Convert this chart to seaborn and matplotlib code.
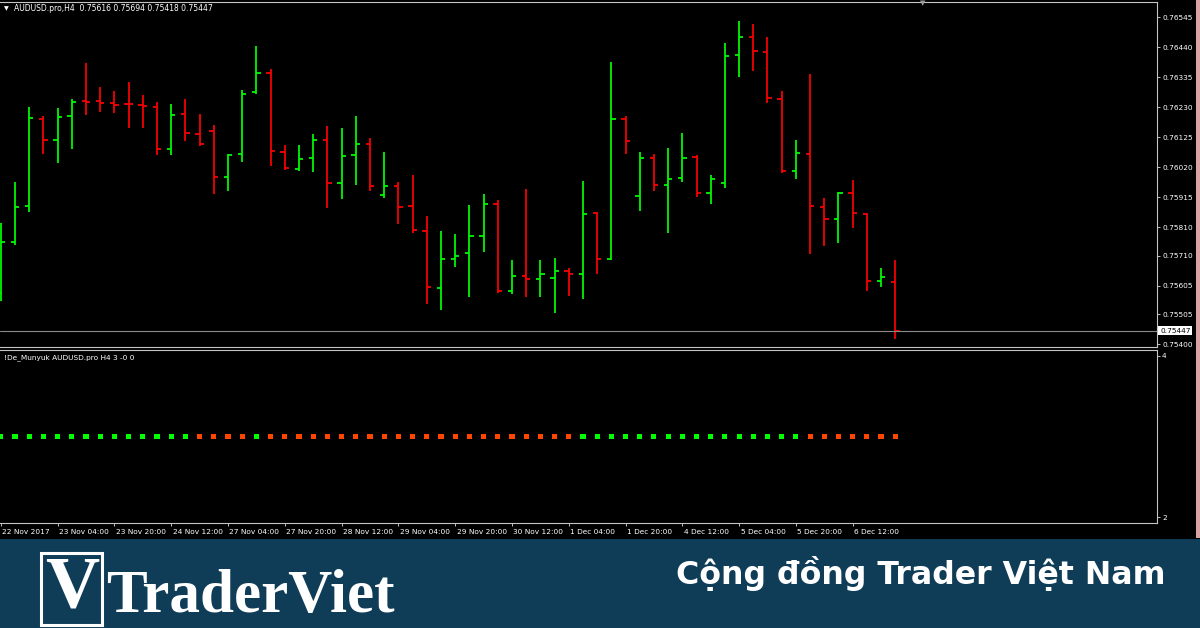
import numpy as np
import pandas as pd
import matplotlib
matplotlib.use("Agg")
import matplotlib.pyplot as plt
import matplotlib.transforms as mtransforms
from matplotlib.patches import Rectangle
import seaborn as sns

# ---------------- data ----------------
symbol_title = "AUDUSD.pro,H4"
title_values = ["0.75616", "0.75694", "0.75418", "0.75447"]
indicator_title = "!De_Munyuk AUDUSD.pro H4 3 -0 0"

opens = [0.75580, 0.75759, 0.75885, 0.76188, 0.76116, 0.76200, 0.76253, 0.76250,
         0.76246, 0.76242, 0.76237, 0.76231, 0.76084, 0.76205, 0.76137, 0.76148,
         0.75986, 0.76067, 0.76284, 0.76349, 0.76074, 0.76012, 0.76053, 0.76116,
         0.75963, 0.76063, 0.76102, 0.75923, 0.75955, 0.75883, 0.75796, 0.75598,
         0.75699, 0.75718, 0.75780, 0.75892, 0.75587, 0.75639, 0.75629, 0.75632,
         0.75657, 0.75646, 0.75858, 0.75699, 0.76188, 0.75920, 0.76051, 0.75958,
         0.75982, 0.76055, 0.75930, 0.75965, 0.76414, 0.76477, 0.76424, 0.76260,
         0.76007, 0.76067, 0.75881, 0.75839, 0.75930, 0.75856, 0.75622, 0.75616]
highs = [0.75823, 0.75967, 0.76232, 0.76200, 0.76226, 0.76258, 0.76384, 0.76300,
         0.76288, 0.76319, 0.76272, 0.76247, 0.76241, 0.76260, 0.76205, 0.76167,
         0.76065, 0.76291, 0.76444, 0.76363, 0.76098, 0.76098, 0.76135, 0.76163,
         0.76157, 0.76198, 0.76121, 0.76074, 0.75967, 0.75992, 0.75848, 0.75795,
         0.75784, 0.75887, 0.75926, 0.75904, 0.75695, 0.75943, 0.75695, 0.75701,
         0.75667, 0.75971, 0.75863, 0.76388, 0.76199, 0.76072, 0.76067, 0.76087,
         0.76138, 0.76061, 0.75992, 0.76454, 0.76533, 0.76522, 0.76475, 0.76286,
         0.76115, 0.76345, 0.75912, 0.75934, 0.75975, 0.75860, 0.75667, 0.75694]
lows = [0.75551, 0.75746, 0.75862, 0.76067, 0.76035, 0.76084, 0.76203, 0.76214,
        0.76210, 0.76156, 0.76156, 0.76063, 0.76063, 0.76110, 0.76095, 0.75927,
        0.75936, 0.76039, 0.76277, 0.76025, 0.76011, 0.76007, 0.76004, 0.75878,
        0.75908, 0.75958, 0.75936, 0.75913, 0.75822, 0.75788, 0.75541, 0.75520,
        0.75671, 0.75564, 0.75721, 0.75580, 0.75576, 0.75566, 0.75566, 0.75510,
        0.75569, 0.75557, 0.75646, 0.75695, 0.76067, 0.75867, 0.75936, 0.75790,
        0.75969, 0.75916, 0.75892, 0.75948, 0.76337, 0.76358, 0.76244, 0.75998,
        0.75979, 0.75716, 0.75742, 0.75753, 0.75808, 0.75585, 0.75601, 0.75418]
closes = [0.75756, 0.75881, 0.76193, 0.76116, 0.76197, 0.76249, 0.76249, 0.76246,
          0.76237, 0.76240, 0.76233, 0.76084, 0.76203, 0.76141, 0.76102, 0.75986,
          0.76063, 0.76277, 0.76349, 0.76077, 0.76018, 0.76049, 0.76116, 0.75963,
          0.76060, 0.76102, 0.75955, 0.75955, 0.75881, 0.75798, 0.75601, 0.75697,
          0.75709, 0.75780, 0.75892, 0.75587, 0.75639, 0.75629, 0.75646, 0.75657,
          0.75646, 0.75856, 0.75699, 0.76188, 0.76112, 0.76051, 0.75958, 0.75979,
          0.76053, 0.75930, 0.75979, 0.76410, 0.76477, 0.76428, 0.76262, 0.76007,
          0.76070, 0.75883, 0.75839, 0.75930, 0.75858, 0.75622, 0.75636, 0.75447]

indicator_signal = ["up", "up", "up", "up", "up", "up", "up", "up",
                    "up", "up", "up", "up", "up", "up", "down", "down",
                    "down", "down", "up", "down", "down", "down", "down", "down",
                    "down", "down", "down", "down", "down", "down", "down", "down",
                    "down", "down", "down", "down", "down", "down", "down", "down",
                    "down", "up", "up", "up", "up", "up", "up", "up",
                    "up", "up", "up", "up", "up", "up", "up", "up",
                    "up", "down", "down", "down", "down", "down", "down", "down"]
indicator_values = [3, 3, 3, 3, 3, 3, 3, 3, 3, 3, 3, 3, 3, 3, 3, 3,
                    3, 3, 3, 3, 3, 3, 3, 3, 3, 3, 3, 3, 3, 3, 3, 3,
                    3, 3, 3, 3, 3, 3, 3, 3, 3, 3, 3, 3, 3, 3, 3, 3,
                    3, 3, 3, 3, 3, 3, 3, 3, 3, 3, 3, 3, 3, 3, 3, 3]

date_labels = ["22 Nov 2017", "23 Nov 04:00", "23 Nov 20:00", "24 Nov 12:00",
               "27 Nov 04:00", "27 Nov 20:00", "28 Nov 12:00", "29 Nov 04:00",
               "29 Nov 20:00", "30 Nov 12:00", "1 Dec 04:00", "1 Dec 20:00",
               "4 Dec 12:00", "5 Dec 04:00", "5 Dec 20:00", "6 Dec 12:00"]
date_label_bars = [0, 4, 8, 12, 16, 20, 24, 28, 32, 36, 40, 44, 48, 52, 56, 60]

price_ticks = [0.76545, 0.76440, 0.76335, 0.76230, 0.76125, 0.76020,
               0.75915, 0.75810, 0.75710, 0.75605, 0.75505, 0.75400]
price_tick_labels = ["0.76545", "0.76440", "0.76335", "0.76230", "0.76125", "0.76020",
                     "0.75915", "0.75810", "0.75710", "0.75605", "0.75505", "0.75400"]
indicator_ticks = [2, 4]
indicator_tick_labels = ["2", "4"]
current_price = 0.75447
current_price_label = "0.75447"

banner_brand = "TraderViet"
banner_slogan = "Cộng đồng Trader Việt Nam"

# ---------------- style ----------------
UP = "#00ff00"
DOWN = "#ff0000"
DOT_UP = "#00ff00"
DOT_DOWN = "#ff4500"
FRAME = "#c4c4c4"
FS = 5.3

sns.set_theme(style="dark")
plt.rcParams["font.family"] = ["DejaVu Sans"]
plt.rcParams["axes.facecolor"] = "black"
plt.rcParams["figure.facecolor"] = "black"

W, H = 1200, 628
fig = plt.figure(figsize=(12, 6.28), dpi=100, facecolor="black")


def rect(x0, y0, x1, y1):
    return [x0 / W, 1 - y1 / H, (x1 - x0) / W, (y1 - y0) / H]


def fx(x):
    return x / W


def fy(y):
    return 1 - y / H


ax = fig.add_axes(rect(0, 1.5, 1157, 347))
axi = fig.add_axes(rect(0, 349.5, 1157, 522.5))

n = len(opens)
x = np.arange(n)
df = pd.DataFrame({"bar": x, "open": opens, "high": highs, "low": lows,
                   "close": closes, "value": indicator_values,
                   "signal": indicator_signal})
colors = [UP if c >= o else DOWN for o, c in zip(df["open"], df["close"])]

# OHLC bars
LW = 1.25
ax.vlines(df["bar"], df["low"], df["high"], colors=colors, lw=LW)
ax.hlines(df["open"], df["bar"] - 0.3, df["bar"], colors=colors, lw=LW)
ax.hlines(df["close"], df["bar"], df["bar"] + 0.3, colors=colors, lw=LW)

ax.axhline(current_price, color="#8a8a8a", lw=0.8)

# indicator dots
sns.scatterplot(data=df, x="bar", y="value", hue="signal",
                palette={"up": DOT_UP, "down": DOT_DOWN}, marker="s", s=14,
                linewidth=0, legend=False, ax=axi)

xlim = (-0.05, 81.43)
for a in (ax, axi):
    a.set_facecolor("black")
    a.set_xlim(*xlim)
    a.set_xlabel("")
    a.set_ylabel("")
    a.grid(False)
    a.spines["left"].set_visible(False)
    for s in ("top", "right", "bottom"):
        a.spines[s].set_visible(True)
        a.spines[s].set_color(FRAME)
        a.spines[s].set_linewidth(0.8)
    a.yaxis.tick_right()
    a.tick_params(axis="y", which="both", right=True, left=False, length=2.2,
                  width=0.7, color=FRAME, labelcolor="white", labelsize=FS, pad=1.5)

ax.set_ylim(0.753895, 0.766004)
ax.set_yticks(price_ticks, labels=price_tick_labels)
ax.set_xticks([])

axi.set_ylim(1.934, 4.077)
axi.set_yticks(indicator_ticks, labels=indicator_tick_labels)
axi.set_xticks(date_label_bars, labels=date_labels)
axi.tick_params(axis="x", bottom=True, length=2.2, width=0.7, color=FRAME,
                labelcolor="white", labelsize=FS, pad=2.2)
offset = mtransforms.ScaledTranslation(1.5 / 100, 0, fig.dpi_scale_trans)
for lbl in axi.get_xticklabels():
    lbl.set_ha("left")
    lbl.set_transform(lbl.get_transform() + offset)

# current price box
ax.annotate(current_price_label, xy=(1.0, current_price),
            xycoords=("axes fraction", "data"), xytext=(2.2, 0),
            textcoords="offset points", ha="left", va="center",
            fontsize=FS, color="black",
            bbox=dict(boxstyle="square,pad=0.25", fc="white", ec="white", lw=0),
            annotation_clip=False)

# titles
fig.text(fx(3.5), fy(8.5), "▼", color="white", fontsize=4.5, ha="left", va="center")
fig.text(fx(14), fy(8.5), f"{symbol_title}  {' '.join(title_values)}",
         color="white", fontsize=5.5, ha="left", va="center")
fig.text(fx(4), fy(357.5), indicator_title, color="white", fontsize=FS,
         ha="left", va="center")
fig.text(fx(923), fy(3), "▼", color="#9a9a9a", fontsize=5, ha="center", va="center")

# right pink strip
fig.patches.append(Rectangle((fx(1196), fy(538)), 4 / W, 538 / H,
                             transform=fig.transFigure, fc="#d9a3a3", ec="none"))

# banner
fig.patches.append(Rectangle((0, 0), 1, (H - 539) / H, transform=fig.transFigure,
                             fc="#0f3d58", ec="none"))
fig.patches.append(Rectangle((fx(41), fy(625)), 61 / W, 72 / H,
                             transform=fig.transFigure, fill=False, ec="white", lw=2.2))
fig.text(fx(72), fy(589), "V", color="white", fontsize=54,
         family="Liberation Serif", weight="bold", ha="center", va="center")
fig.text(fx(106), fy(612), banner_brand, color="white", fontsize=44,
         family="Liberation Serif", weight="bold", ha="left", va="baseline")
fig.text(fx(1166), fy(584), banner_slogan, color="white", fontsize=22.8,
         family="DejaVu Sans", weight="bold", ha="right", va="baseline")

fig.savefig("out.png", dpi=100, facecolor="black")
